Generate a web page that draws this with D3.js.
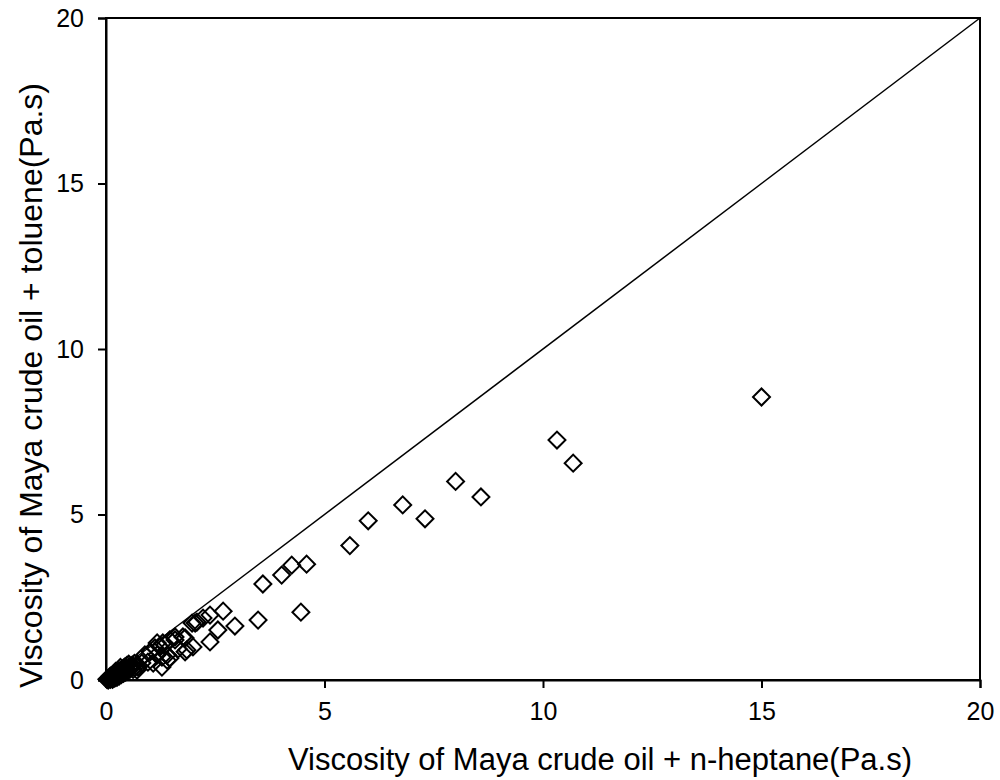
<!DOCTYPE html>
<html lang="en">
<head>
    <meta charset="UTF-8">
    <title>Viscosity comparison</title>
    <script src="https://cdn.jsdelivr.net/npm/d3@7"></script>
    <style>
        body { margin: 0; background: #fff; }
        text { font-family: "Liberation Sans", Arial, sans-serif; fill: #000; }
    </style>
</head>
<body>
<script type="text/javascript">

    // viscosity with n-heptane (x) and with toluene (y), Pa.s
    var heptane = [15.0, 10.32, 10.69, 8.0, 8.58, 6.79, 7.30, 6.0, 5.58, 4.59,
                   4.25, 4.02, 3.59, 4.46, 3.48, 2.95, 2.68, 2.56, 2.38, 2.38,
                   2.22, 2.08, 1.97, 1.99, 1.81, 1.85, 1.65, 1.46, 1.30, 1.17,
                   1.46, 1.28, 1.17, 1.58, 1.35, 1.24, 1.12, 1.01, 0.89, 0.96,
                   1.08, 1.28, 1.40, 0.82, 0.73, 0.71, 0.59, 1.76, 1.58, 1.81,
                   1.40, 2.04,
                   0.02, 0.04, 0.06, 0.08, 0.10, 0.12, 0.14, 0.16, 0.18, 0.20,
                   0.22, 0.25, 0.28, 0.30, 0.33, 0.36, 0.40, 0.44, 0.48, 0.52,
                   0.30, 0.35, 0.40, 0.45, 0.50, 0.55, 0.25, 0.20, 0.15, 0.42,
                   0.47, 0.38, 0.60, 0.65, 0.55, 0.62, 0.68, 0.05, 0.10, 0.15,
                   0.10, 0.22, 0.33];
    var toluene = [8.55, 7.25, 6.55, 6.0, 5.53, 5.29, 4.87, 4.81, 4.06, 3.50,
                   3.47, 3.17, 2.90, 2.05, 1.81, 1.63, 2.08, 1.51, 1.15, 1.96,
                   1.87, 1.75, 1.72, 1.0, 1.27, 0.91, 0.94, 1.21, 1.12, 1.12,
                   0.66, 0.39, 0.76, 1.30, 1.06, 1.0, 0.97, 0.85, 0.76, 0.54,
                   0.51, 0.69, 0.60, 0.51, 0.39, 0.30, 0.39, 1.30, 1.21, 0.85,
                   0.76, 1.72,
                   0.02, 0.03, 0.05, 0.06, 0.08, 0.10, 0.11, 0.13, 0.15, 0.17,
                   0.19, 0.21, 0.24, 0.26, 0.29, 0.32, 0.36, 0.40, 0.44, 0.48,
                   0.12, 0.16, 0.20, 0.24, 0.28, 0.33, 0.08, 0.06, 0.05, 0.30,
                   0.35, 0.26, 0.45, 0.50, 0.40, 0.32, 0.42, 0.00, 0.02, 0.02,
                   0.12, 0.26, 0.38];
    var tickVals = [0, 5, 10, 15, 20];

    var w = 1000, h = 780;
    var plotL = 106, plotR = 980, plotT = 18, plotB = 680;

    var xScale = d3.scaleLinear().domain([0, 20]).range([plotL, plotR]);
    var yScale = d3.scaleLinear().domain([0, 20]).range([plotB, plotT]);

    var svg = d3.select("body").append("svg")
                .attr("width", w)
                .attr("height", h);

    // plot frame
    svg.append("rect")
       .attr("x", plotL).attr("y", plotT)
       .attr("width", plotR - plotL).attr("height", plotB - plotT)
       .attr("fill", "none").attr("stroke", "#000").attr("stroke-width", 2);

    // y = x line
    svg.append("line")
       .attr("x1", xScale(0)).attr("y1", yScale(0))
       .attr("x2", xScale(20)).attr("y2", yScale(20))
       .attr("stroke", "#000").attr("stroke-width", 1.5);

    var xAxis = d3.axisBottom(xScale).tickValues(tickVals).tickSize(8).tickPadding(14);
    var yAxis = d3.axisLeft(yScale).tickValues(tickVals).tickSize(8).tickPadding(14);

    var gx = svg.append("g").attr("transform", "translate(0," + plotB + ")").call(xAxis);
    var gy = svg.append("g").attr("transform", "translate(" + plotL + ",0)").call(yAxis);

    [gx, gy].forEach(function(g) {
        g.select(".domain").attr("stroke", "#000").attr("stroke-width", 2);
        g.selectAll(".tick line").attr("stroke", "#000").attr("stroke-width", 2);
        g.selectAll(".tick text").attr("font-size", "25px")
         .attr("font-family", "Liberation Sans, Arial, sans-serif").attr("fill", "#000");
    });

    // markers
    var diamond = d3.symbol().type(d3.symbolSquare).size(144);
    svg.selectAll("path.pt")
       .data(d3.range(heptane.length))
       .enter()
       .append("path")
       .attr("class", "pt")
       .attr("d", diamond)
       .attr("transform", function(i) {
           return "translate(" + xScale(heptane[i]) + "," + yScale(toluene[i]) + ") rotate(45)";
       })
       .attr("fill", "none")
       .attr("stroke", "#000")
       .attr("stroke-width", 2);

    // axis titles
    svg.append("text")
       .attr("x", 288).attr("y", 770)
       .attr("font-size", "31px")
       .text("Viscosity of Maya crude oil + n-heptane(Pa.s)");

    svg.append("text")
       .attr("transform", "translate(42,688) rotate(-90)")
       .attr("font-size", "32px")
       .text("Viscosity of Maya crude oil + toluene(Pa.s)");

</script>
</body>
</html>
